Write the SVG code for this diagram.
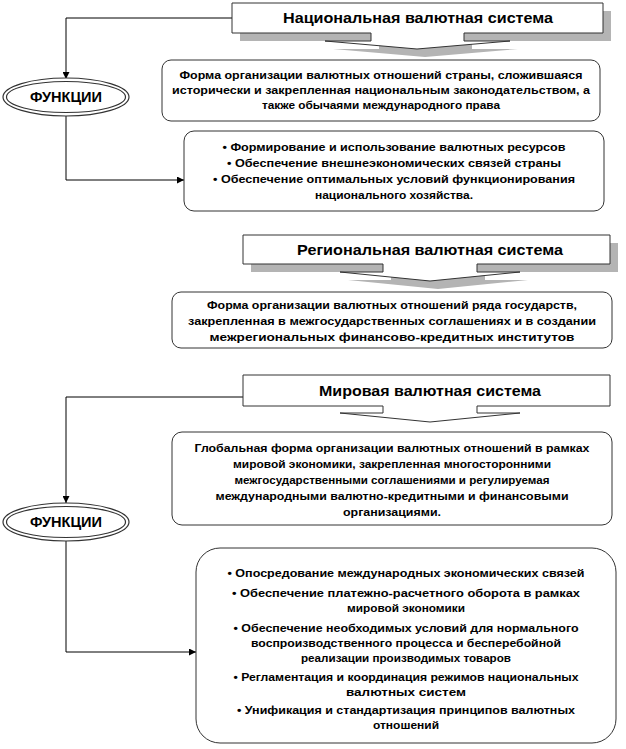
<svg xmlns="http://www.w3.org/2000/svg" width="626" height="749" viewBox="0 0 626 749">
<defs>
<marker id="ah" viewBox="0 0 10 10" refX="10" refY="5" markerWidth="7" markerHeight="7" orient="auto" markerUnits="userSpaceOnUse"><path d="M0,0 L10,5 L0,10 z" fill="#000"/></marker>
<style>
.t{font-family:"Liberation Sans",Arial,sans-serif;font-weight:bold;fill:#000;text-anchor:middle}
.h{font-size:14px}
.b{font-size:11px}
.e{font-size:14px}
.box{fill:#fff;stroke:#333;stroke-width:1}
.sh{fill:#b4b4b4;stroke:none}
.c{fill:none;stroke:#000;stroke-width:1}
.el{fill:#fff;stroke:#333;stroke-width:1.2}
</style>
</defs>
<rect width="626" height="749" fill="#fff"/>

<g id="connectors">
<path class="c" d="M232,18 H66 V79" marker-end="url(#ah)"/>
<path class="c" d="M66,116 V180 H184" marker-end="url(#ah)"/>
<path class="c" d="M243,397 H66 V503" marker-end="url(#ah)"/>
<path class="c" d="M66,541 V652 H196" marker-end="url(#ah)"/>
</g>

<g id="national">
<path class="sh" d="M240,11 H611 V41 H472 V49 H518 L425,57 L333,49 H379 V41 H240 z"/>
<path class="box" d="M232,3 H603 V33 H464 V41 H510 L417,49 L325,41 H371 V33 H232 z"/>
<text class="t h" x="418" y="23" textLength="270" lengthAdjust="spacingAndGlyphs">Национальная валютная система</text>
</g>

<g id="ellipse1">
<ellipse class="el" cx="66" cy="97" rx="63" ry="19"/>
<ellipse class="el" cx="66" cy="97" rx="59.5" ry="15.5" stroke-width="0.8"/>
<text class="t e" x="66" y="102" textLength="72" lengthAdjust="spacingAndGlyphs">ФУНКЦИИ</text>
</g>

<g id="box1">
<rect class="box" x="162" y="60" width="438" height="61" rx="9"/>
<text class="t b" x="381" y="79" textLength="403" lengthAdjust="spacingAndGlyphs">Форма организации  валютных  отношений  страны,  сложившаяся</text>
<text class="t b" x="381" y="94" textLength="418" lengthAdjust="spacingAndGlyphs">исторически  и закрепленная  национальным  законодательством,  а</text>
<text class="t b" x="381" y="109" textLength="238" lengthAdjust="spacingAndGlyphs">также обычаями  международного  права</text>
</g>

<g id="box2">
<rect class="box" x="184" y="131" width="420" height="80" rx="10"/>
<text class="t b" x="394" y="151" textLength="343" lengthAdjust="spacingAndGlyphs">• Формирование  и использование  валютных  ресурсов</text>
<text class="t b" x="394" y="167" textLength="334" lengthAdjust="spacingAndGlyphs">• Обеспечение  внешнеэкономических  связей страны</text>
<text class="t b" x="394" y="183" textLength="362" lengthAdjust="spacingAndGlyphs">• Обеспечение  оптимальных  условий функционирования</text>
<text class="t b" x="394" y="199" textLength="158" lengthAdjust="spacingAndGlyphs">национального  хозяйства.</text>
</g>

<g id="regional">
<path class="sh" d="M251,243 H618 V272 H485 V280 H528 L438,289 L348,280 H391 V272 H251 z"/>
<path class="box" d="M243,235 H610 V264 H477 V272 H520 L430,281 L340,272 H383 V264 H243 z"/>
<text class="t h" x="430" y="255" textLength="266" lengthAdjust="spacingAndGlyphs">Региональная валютная система</text>
</g>

<g id="box3">
<rect class="box" x="172" y="292" width="440" height="56" rx="9"/>
<text class="t b" x="392" y="309" textLength="370" lengthAdjust="spacingAndGlyphs">Форма организации  валютных  отношений  ряда  государств,</text>
<text class="t b" x="392" y="325" textLength="408" lengthAdjust="spacingAndGlyphs">закрепленная  в межгосударственных  соглашениях  и в создании</text>
<text class="t b" x="392" y="341" textLength="365" lengthAdjust="spacingAndGlyphs">межрегиональных  финансово-кредитных  институтов</text>
</g>

<g id="world">
<path class="box" d="M243,375 H610 V406 H477 V413 H520 L430,422 L340,413 H383 V406 H243 z"/>
<text class="t h" x="430" y="396" textLength="222" lengthAdjust="spacingAndGlyphs">Мировая валютная система</text>
</g>

<g id="box4">
<rect class="box" x="172" y="432" width="440" height="93" rx="10"/>
<text class="t b" x="392" y="452" textLength="395" lengthAdjust="spacingAndGlyphs">Глобальная  форма  организации  валютных  отношений  в рамках</text>
<text class="t b" x="392" y="468" textLength="318" lengthAdjust="spacingAndGlyphs">мировой  экономики,  закрепленная  многосторонними</text>
<text class="t b" x="392" y="484" textLength="315" lengthAdjust="spacingAndGlyphs">межгосударственными  соглашениями  и регулируемая</text>
<text class="t b" x="392" y="500" textLength="353" lengthAdjust="spacingAndGlyphs">международными  валютно-кредитными  и финансовыми</text>
<text class="t b" x="392" y="516" textLength="98" lengthAdjust="spacingAndGlyphs">организациями.</text>
</g>

<g id="ellipse2">
<ellipse class="el" cx="66" cy="522" rx="63" ry="19"/>
<ellipse class="el" cx="66" cy="522" rx="59.5" ry="15.5" stroke-width="0.8"/>
<text class="t e" x="66" y="527" textLength="72" lengthAdjust="spacingAndGlyphs">ФУНКЦИИ</text>
</g>

<g id="box5">
<rect class="box" x="196" y="548" width="420" height="195" rx="24"/>
<text class="t b" x="406" y="577" textLength="357" lengthAdjust="spacingAndGlyphs">• Опосредование  международных  экономических  связей</text>
<text class="t b" x="406" y="597" textLength="348" lengthAdjust="spacingAndGlyphs">• Обеспечение  платежно-расчетного  оборота  в рамках</text>
<text class="t b" x="406" y="612" textLength="118" lengthAdjust="spacingAndGlyphs">мировой  экономики</text>
<text class="t b" x="406" y="632" textLength="345" lengthAdjust="spacingAndGlyphs">• Обеспечение  необходимых  условий  для нормального</text>
<text class="t b" x="406" y="647" textLength="310" lengthAdjust="spacingAndGlyphs">воспроизводственного  процесса  и бесперебойной</text>
<text class="t b" x="406" y="662" textLength="210" lengthAdjust="spacingAndGlyphs">реализации  производимых  товаров</text>
<text class="t b" x="406" y="681" textLength="345" lengthAdjust="spacingAndGlyphs">• Регламентация  и координация  режимов  национальных</text>
<text class="t b" x="406" y="696" textLength="120" lengthAdjust="spacingAndGlyphs">валютных  систем</text>
<text class="t b" x="406" y="714" textLength="338" lengthAdjust="spacingAndGlyphs">• Унификация  и стандартизация  принципов  валютных</text>
<text class="t b" x="406" y="729" textLength="66" lengthAdjust="spacingAndGlyphs">отношений</text>
</g>
</svg>
